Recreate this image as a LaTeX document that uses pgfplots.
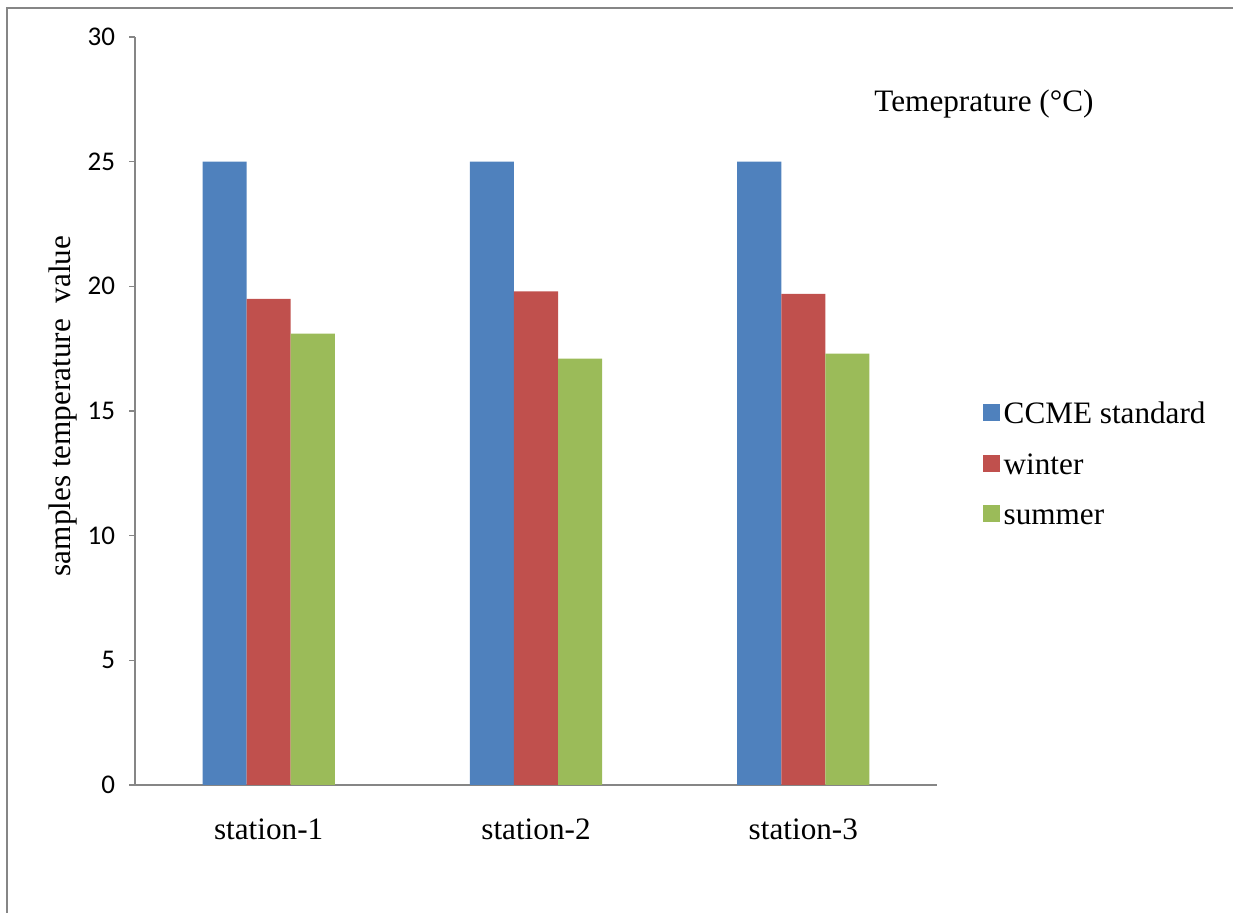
\documentclass[border=0pt]{standalone}
\usepackage{fontspec}
\setmainfont{Liberation Serif}
\newfontfamily\carlito{Carlito}
\usepackage{pgfplots}
\pgfplotsset{compat=1.18}
\definecolor{cblue}{HTML}{4F81BD}
\definecolor{cred}{HTML}{C0504D}
\definecolor{cgreen}{HTML}{9BBB59}
\definecolor{axgray}{HTML}{868686}
\newcommand{\bigfont}{\fontsize{15.6}{18}\selectfont}
\begin{document}
\begin{tikzpicture}
\begin{axis}[
  at={(67.5pt,64pt)}, anchor=south west,
  scale only axis, width=401pt, height=374pt,
  xmin=-0.5, xmax=2.5, ymin=0, ymax=30,
  ytick={0,5,10,15,20,25,30},
  xtick={0,1,2}, xticklabels={station-1,station-2,station-3},
  axis x line=bottom, axis y line=left,
  axis line style={draw=axgray, line width=0.75pt, -},
  x tick style={draw=none},
  y tick style={draw=axgray, line width=0.75pt},
  tick align=outside, major tick length=3pt,
  /pgf/number format/assume math mode=true,
  yticklabel style={font=\carlito\fontsize{13.5}{16}\selectfont, anchor=east, inner sep=0pt, xshift=-6.75pt},
  xticklabel style={font=\bigfont, anchor=base, yshift=-24.5pt},
  ybar, bar width=0.165,
  legend style={at={(axis description cs:1.049,0.524)}, anchor=north west, draw=none, fill=none, font=\bigfont, row sep=10.3pt,
    nodes={inner sep=2pt, text height=11pt, text depth=0pt}},
  legend cell align=left,
]
\addplot[fill=cblue, draw=none, bar shift=-0.165, legend image code/.code={\fill[cblue] (0pt,-4.25pt) rectangle (8.5pt,4.25pt);}] coordinates {(0,25) (1,25) (2,25)};
\addplot[fill=cred, draw=none, bar shift=0, legend image code/.code={\fill[cred] (0pt,-4.25pt) rectangle (8.5pt,4.25pt);}] coordinates {(0,19.5) (1,19.8) (2,19.7)};
\addplot[fill=cgreen, draw=none, bar shift=0.165, legend image code/.code={\fill[cgreen] (0pt,-4.25pt) rectangle (8.5pt,4.25pt);}] coordinates {(0,18.1) (1,17.1) (2,17.3)};
\legend{CCME standard, winter, summer}
\end{axis}
\node[rotate=90, font=\bigfont] at (31.5pt,253.5pt) {samples temperature\ \ value};
\node[anchor=base, font=\bigfont] at (492pt,400.5pt) {Temeprature (°C)};
\draw[axgray, line width=1pt] (3.5pt,0pt) -- (3.5pt,452.5pt) -- (616.5pt,452.5pt);
\pgfresetboundingbox
\path (0pt,0pt) rectangle (616.5pt,456.5pt);
\end{tikzpicture}
\end{document}
